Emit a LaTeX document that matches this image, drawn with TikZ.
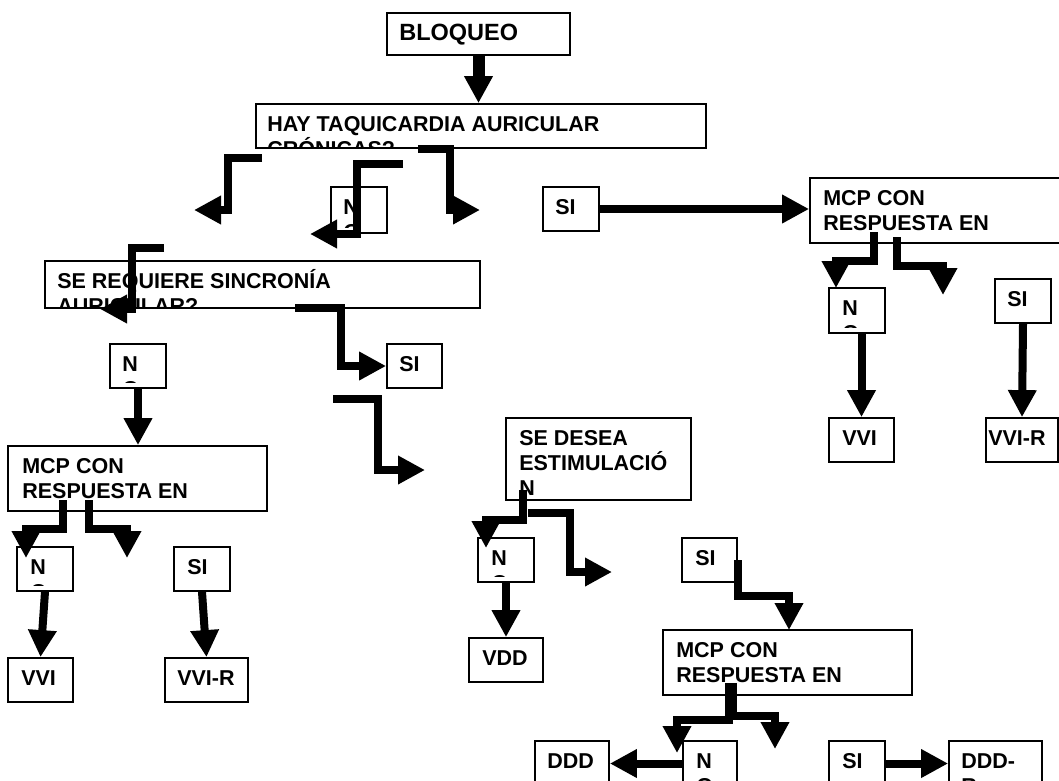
\documentclass[tikz,border=0pt]{standalone}
\usepackage{fontspec}
\setmainfont{Liberation Sans}
\usetikzlibrary{arrows.meta,fit}
\newcommand{\bxfont}{\fontsize{21.5}{25}\selectfont\bfseries}
\newcommand{\bigbx}{\fontsize{23.5}{27}\selectfont}
\tikzset{
  boxst/.style={draw, line width=1.8pt, inner sep=0pt},
  arr/.style={line width=8pt, line join=miter, -{Triangle[length=27pt,width=27pt]}},
}
% name, x1, y1, x2, y2, left inset, bottom inset of the text area, text
\newcommand{\tbox}[8]{%
  \node[boxst, fit={(#2,#3) (#4,#5)}] (#1) {};
  \begin{scope}
    \clip ([yshift=#7pt]#1.south west) rectangle (#1.north east);
    \node[anchor=base west, inner sep=0pt] at ([shift={(#6,28)}]#1.north west)
      {\parbox[t]{400pt}{\bxfont #8}};
  \end{scope}}
\begin{document}
\begin{tikzpicture}[x=1pt, y=-1pt]
\fill[white] (0,0) rectangle (1059,780);
\useasboundingbox (0,0) rectangle (1059,780);

% boxes
\tbox{bloq}{387}{13}{570}{55}{13}{1}{\bigbx BLOQUEO}
\tbox{hay}{256}{104}{706}{148}{12}{1}{HAY TAQUICARDIA AURICULAR\\CRÓNICAS?}
\tbox{nA}{331}{187}{387}{233}{13}{6}{N\\O}
\tbox{siA}{543}{187}{599}{231}{13}{1}{SI}
\tbox{mcpR}{810}{178}{1075}{243}{14}{1}{MCP CON\\RESPUESTA EN}
\tbox{sereq}{45}{261}{480}{308}{13}{1}{SE REQUIERE SINCRONÍA\\AURICULAR?}
\tbox{nB}{110}{344}{166}{388}{13}{6}{N\\O}
\tbox{siB}{387}{344}{442}{388}{13}{1}{SI}
\tbox{nR}{829}{288}{885}{333}{14}{6}{N\\O}
\tbox{siR}{995}{279}{1051}{323}{13}{1}{SI}
\tbox{vviR}{829}{418}{894}{462}{14}{1}{VVI}
\tbox{vvirR}{986}{418}{1058}{462}{3}{1}{VVI-R}
\tbox{mcpL}{8}{446}{267}{511}{15}{1}{MCP CON\\RESPUESTA EN}
\tbox{nL}{17}{547}{73}{591}{14}{6}{N\\O}
\tbox{siL}{174}{547}{230}{591}{14}{1}{SI}
\tbox{vviL}{8}{658}{73}{702}{14}{1}{VVI}
\tbox{vvirL}{165}{658}{248}{702}{13}{1}{VVI-R}
\tbox{desea}{506}{418}{691}{500}{14}{1}{SE DESEA\\ESTIMULACIÓ\\N}
\tbox{nM}{478}{538}{534}{582}{14}{6}{N\\O}
\tbox{vdd}{469}{638}{543}{682}{14}{1}{VDD}
\tbox{siM}{682}{538}{737}{582}{14}{1}{SI}
\tbox{mcpB}{663}{630}{912}{695}{14}{1}{MCP CON\\RESPUESTA EN}
\tbox{ddd}{535}{741}{609}{786}{13}{1}{DDD}
\tbox{nD}{683}{741}{737}{786}{14}{6}{N\\O}
\tbox{siD}{829}{741}{885}{786}{14}{1}{SI}
\tbox{dddr}{949}{741}{1042}{786}{13}{1}{DDD-\\R}

% free connector ends
\coordinate (e1s) at (262,158);  \coordinate (e1t) at (194,210);
\coordinate (e2s) at (403,164);  \coordinate (e2t) at (310,234);
\coordinate (e3s) at (418,149);  \coordinate (e3t) at (480,210);
\coordinate (e4s) at (164,248);  \coordinate (e4t) at (100,309);
\coordinate (e5s) at (295,308);
\coordinate (e6s) at (333,399);  \coordinate (e6t) at (425,470);
\coordinate (e7s) at (63,500);   \coordinate (e7t) at (26,558);
\coordinate (e8s) at (89,500);   \coordinate (e8t) at (127,558);
\coordinate (e9s) at (874,232);  \coordinate (e9t) at (836,288);
\coordinate (e10s) at (897,237); \coordinate (e10t) at (943,295);
\coordinate (e11s) at (523,490); \coordinate (e11t) at (486,548);
\coordinate (e12s) at (528,513); \coordinate (e12t) at (612,572);
\coordinate (e13t) at (789,630);
\coordinate (e14s) at (729,683); \coordinate (e14t) at (677,753);
\coordinate (e15s) at (733,683); \coordinate (e15t) at (775,749);

% connectors
\draw[arr, line width=12pt] (bloq.south) -- (bloq.south |- hay.north);
\draw[arr] (e1s) -- ++(-34,0) |- (e1t);
\draw[arr] (e2s) -- ++(-46,0) |- (e2t);
\draw[arr] (e3s) -- ++(32,0) |- (e3t);
\draw[arr] (siA.east) -- (siA.east -| mcpR.west);
\draw[arr] (e4s) -- ++(-32,0) |- (e4t);
\draw[arr] (e5s) -- ++(46,0) |- (siB.west);
\draw[arr] (nB.south) -- (nB.south |- mcpL.north);
\draw[arr] (e6s) -- ++(45,0) |- (e6t);
\draw[arr] (e7s) -- ++(0,29) -| (e7t);
\draw[arr] (e8s) -- ++(0,29) -| (e8t);
\draw[arr] (nL.south) -- (vviL.north);
\draw[arr] (siL.south) -- (vvirL.north);
\draw[arr] (e9s) -- ++(0,29) -| (e9t);
\draw[arr] (e10s) -- ++(0,29) -| (e10t);
\draw[arr] (vviR.north |- nR.south) -- (vviR.north);
\draw[arr] (siR.south) -- (vvirR.north);
\draw[arr] (e11s) -- ++(0,30) -| (e11t);
\draw[arr] (e12s) -- ++(42,0) |- (e12t);
\draw[arr] (nM.south) -- (vdd.north);
\draw[arr] (siM.east) -- ++(0,36) -| (e13t);
\draw[arr] (e14s) -- ++(0,37) -| (e14t);
\draw[arr] (e15s) -- ++(0,33) -| (e15t);
\draw[arr] (nD.west) -- (ddd.east);
\draw[arr] (siD.east) -- (dddr.west);
\end{tikzpicture}
\end{document}
